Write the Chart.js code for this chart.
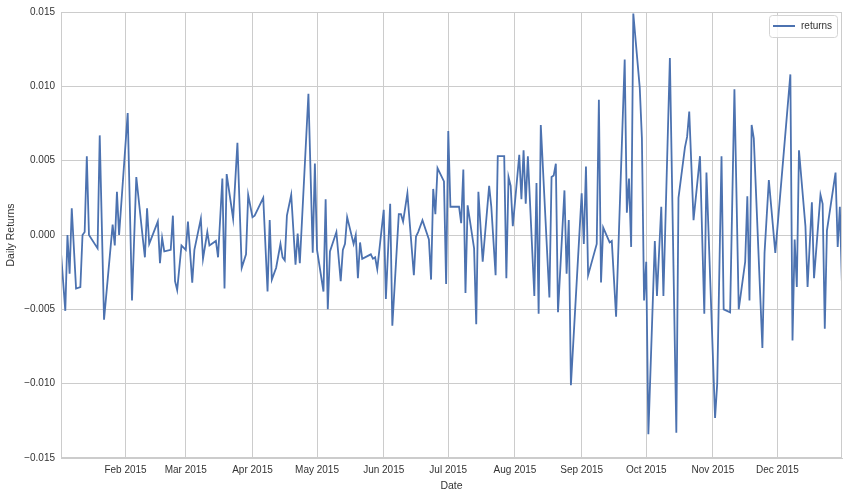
<!DOCTYPE html>
<html>
<head>
<meta charset="utf-8">
<script src="https://cdn.jsdelivr.net/npm/chart.js@4.4.1/dist/chart.umd.min.js"></script>
<style>
html, body { margin: 0; padding: 0; background: #fff; }
#wrap { width: 848px; height: 497px; }
</style>
</head>
<body>
<div id="wrap"><canvas id="returnsChart" width="848" height="497"></canvas></div>
<script>
const seriesName = 'returns';

const dates = [
    '2015-01-02', '2015-01-04', '2015-01-05', '2015-01-06', '2015-01-07', '2015-01-09', '2015-01-11', '2015-01-12',
    '2015-01-13', '2015-01-14', '2015-01-15', '2015-01-19', '2015-01-20', '2015-01-22', '2015-01-26', '2015-01-27',
    '2015-01-28', '2015-01-29', '2015-02-02', '2015-02-04', '2015-02-06', '2015-02-09', '2015-02-10', '2015-02-11',
    '2015-02-12', '2015-02-16', '2015-02-17', '2015-02-18', '2015-02-19', '2015-02-22', '2015-02-23', '2015-02-24',
    '2015-02-25', '2015-02-27', '2015-03-01', '2015-03-02', '2015-03-04', '2015-03-05', '2015-03-08', '2015-03-09',
    '2015-03-11', '2015-03-12', '2015-03-15', '2015-03-16', '2015-03-18', '2015-03-19', '2015-03-20', '2015-03-23',
    '2015-03-25', '2015-03-27', '2015-03-29', '2015-03-30', '2015-04-01', '2015-04-02', '2015-04-06', '2015-04-08',
    '2015-04-09', '2015-04-10', '2015-04-12', '2015-04-14', '2015-04-15', '2015-04-16', '2015-04-17', '2015-04-19',
    '2015-04-21', '2015-04-22', '2015-04-23', '2015-04-27', '2015-04-29', '2015-04-30', '2015-05-01', '2015-05-04',
    '2015-05-05', '2015-05-06', '2015-05-07', '2015-05-10', '2015-05-12', '2015-05-13', '2015-05-14', '2015-05-15',
    '2015-05-18', '2015-05-19', '2015-05-20', '2015-05-21', '2015-05-22', '2015-05-26', '2015-05-27', '2015-05-28',
    '2015-05-29', '2015-06-01', '2015-06-02', '2015-06-04', '2015-06-05', '2015-06-08', '2015-06-09', '2015-06-10',
    '2015-06-12', '2015-06-15', '2015-06-16', '2015-06-17', '2015-06-19', '2015-06-22', '2015-06-23', '2015-06-24',
    '2015-06-25', '2015-06-26', '2015-06-29', '2015-06-30', '2015-07-01', '2015-07-02', '2015-07-06', '2015-07-07',
    '2015-07-08', '2015-07-09', '2015-07-10', '2015-07-13', '2015-07-14', '2015-07-15', '2015-07-17', '2015-07-20',
    '2015-07-21', '2015-07-23', '2015-07-24', '2015-07-27', '2015-07-28', '2015-07-29', '2015-07-30', '2015-07-31',
    '2015-08-03', '2015-08-04', '2015-08-05', '2015-08-06', '2015-08-07', '2015-08-10', '2015-08-11', '2015-08-12',
    '2015-08-13', '2015-08-17', '2015-08-18', '2015-08-19', '2015-08-20', '2015-08-21', '2015-08-24', '2015-08-25',
    '2015-08-26', '2015-08-27', '2015-09-01', '2015-09-02', '2015-09-03', '2015-09-04', '2015-09-08', '2015-09-09',
    '2015-09-10', '2015-09-11', '2015-09-14', '2015-09-15', '2015-09-17', '2015-09-21', '2015-09-22', '2015-09-23',
    '2015-09-24', '2015-09-25', '2015-09-28', '2015-09-29', '2015-09-30', '2015-10-01', '2015-10-02', '2015-10-05',
    '2015-10-06', '2015-10-08', '2015-10-09', '2015-10-12', '2015-10-15', '2015-10-16', '2015-10-19', '2015-10-20',
    '2015-10-21', '2015-10-23', '2015-10-26', '2015-10-28', '2015-10-29', '2015-11-02', '2015-11-03', '2015-11-05',
    '2015-11-06', '2015-11-09', '2015-11-11', '2015-11-13', '2015-11-16', '2015-11-17', '2015-11-18', '2015-11-19',
    '2015-11-20', '2015-11-24', '2015-11-25', '2015-11-27', '2015-11-30', '2015-12-07', '2015-12-08', '2015-12-09',
    '2015-12-10', '2015-12-11', '2015-12-14', '2015-12-15', '2015-12-17', '2015-12-18', '2015-12-21', '2015-12-22',
    '2015-12-23', '2015-12-24', '2015-12-28', '2015-12-29', '2015-12-30', '2015-12-31'
];

const returns = [
    -0.0012, -0.0051, 0.0000, -0.0026, 0.0018, -0.0036, -0.0035, 0.0000,
    0.0002, 0.0053, 0.0000, -0.0009, 0.0067, -0.0057, 0.0007, -0.0007,
    0.0029, 0.0000, 0.0082, -0.0044, 0.0039, -0.0002, -0.0015, 0.0018,
    -0.0006, 0.0009, -0.0019, -0.0002, -0.0011, -0.0010, 0.0013, -0.0031,
    -0.0037, -0.0007, -0.0010, 0.0009, -0.0032, -0.0010, 0.0011, -0.0016,
    0.0002, -0.0007, -0.0004, -0.0015, 0.0038, -0.0036, 0.0041, 0.0011,
    0.0062, -0.0022, -0.0013, 0.0027, 0.0012, 0.0013, 0.0025, -0.0038,
    0.0010, -0.0030, -0.0022, -0.0006, -0.0015, -0.0017, 0.0013, 0.0027,
    -0.0020, 0.0001, -0.0019, 0.0095, -0.0012, 0.0048, -0.0010, -0.0038,
    0.0024, -0.0050, -0.0011, 0.0002, -0.0031, -0.0010, -0.0006, 0.0012,
    -0.0006, 0.0000, -0.0029, -0.0005, -0.0016, -0.0013, -0.0016, -0.0015,
    -0.0023, 0.0017, -0.0043, 0.0021, -0.0061, 0.0014, 0.0014, 0.0009,
    0.0028, -0.0027, -0.0001, 0.0002, 0.0010, -0.0003, -0.0030, 0.0031,
    0.0014, 0.0045, 0.0036, -0.0033, 0.0070, 0.0019, 0.0019, 0.0008,
    0.0044, -0.0039, 0.0020, -0.0009, -0.0060, 0.0029, -0.0018, 0.0033,
    0.0019, -0.0027, 0.0053, 0.0053, -0.0029, 0.0039, 0.0033, 0.0006,
    0.0054, 0.0024, 0.0057, 0.0021, 0.0053, -0.0041, 0.0035, -0.0053,
    0.0074, -0.0042, 0.0039, 0.0040, 0.0048, -0.0052, 0.0030, -0.0026,
    0.0010, -0.0101, 0.0028, -0.0006, 0.0046, -0.0027, -0.0006, 0.0091,
    -0.0032, 0.0005, -0.0005, -0.0004, -0.0055, 0.0118, 0.0015, 0.0038,
    -0.0008, 0.0149, 0.0099, 0.0065, -0.0044, -0.0018, -0.0134, -0.0004,
    -0.0041, 0.0019, -0.0041, 0.0119, -0.0133, 0.0025, 0.0059, 0.0066,
    0.0083, 0.0010, 0.0053, -0.0053, 0.0042, -0.0123, -0.0100, 0.0053,
    -0.0050, -0.0052, 0.0098, -0.0050, -0.0018, 0.0026, -0.0044, 0.0074,
    0.0065, -0.0076, -0.0012, 0.0037, -0.0012, 0.0108, -0.0071, -0.0003,
    -0.0035, 0.0057, 0.0006, -0.0035, 0.0022, -0.0029, 0.0027, 0.0021,
    -0.0063, 0.0003, 0.0042, -0.0008, 0.0019, -0.0034
];

const monthTickDates = ['2015-02-01', '2015-03-01', '2015-04-01', '2015-05-01', '2015-06-01',
    '2015-07-01', '2015-08-01', '2015-09-01', '2015-10-01', '2015-11-01', '2015-12-01'];
const monthTickLabels = ['Feb 2015', 'Mar 2015', 'Apr 2015', 'May 2015', 'Jun 2015',
    'Jul 2015', 'Aug 2015', 'Sep 2015', 'Oct 2015', 'Nov 2015', 'Dec 2015'];

const lineColor = '#4c72b0';
const gridColor = '#cccccc';
const textColor = '#333333';
const fontFamily = '"Liberation Sans", Arial, sans-serif';

// no date adapter offline, so dates go on a linear axis as day-of-year
function dayOfYear(s) {
    const d = new Date(s + 'T00:00:00Z');
    return (d - Date.UTC(d.getUTCFullYear(), 0, 1)) / 86400000;
}

const points = dates.map((d, i) => ({ x: dayOfYear(d), y: returns[i] }));
const tickDays = monthTickDates.map(dayOfYear);

const frameAndLegend = {
    id: 'frameAndLegend',
    afterDraw(chart) {
        const { ctx, chartArea: a } = chart;
        ctx.save();
        ctx.strokeStyle = gridColor;
        ctx.lineWidth = 1;
        ctx.strokeRect(Math.round(a.left) + 0.5, Math.round(a.top) + 0.5,
            Math.round(a.right - a.left) - 1, Math.round(a.bottom - a.top) - 1);

        // legend box, top right inside the plot
        const bw = 68, bh = 22;
        const bx = a.right - 5 - bw, by = a.top + 3;
        ctx.beginPath();
        ctx.roundRect(bx + 0.5, by + 0.5, bw, bh, 3);
        ctx.fillStyle = 'rgba(255,255,255,0.8)';
        ctx.fill();
        ctx.strokeStyle = '#d4d4d4';
        ctx.stroke();
        ctx.beginPath();
        ctx.moveTo(bx + 4, by + 11);
        ctx.lineTo(bx + 26, by + 11);
        ctx.strokeStyle = lineColor;
        ctx.lineWidth = 2;
        ctx.stroke();
        ctx.fillStyle = textColor;
        ctx.font = '10px ' + fontFamily;
        ctx.textBaseline = 'middle';
        ctx.textAlign = 'left';
        ctx.fillText(seriesName, bx + 32, by + 11.5);
        ctx.restore();
    }
};

const ctx = document.getElementById('returnsChart').getContext('2d');
new Chart(ctx, {
    type: 'line',
    data: {
        datasets: [{
            label: seriesName,
            data: points,
            borderColor: lineColor,
            borderWidth: 1.8,
            pointRadius: 0,
            tension: 0,
            fill: false
        }]
    },
    options: {
        responsive: false,
        animation: false,
        layout: { padding: { top: 12, right: 6, left: 0, bottom: 0 } },
        plugins: {
            legend: { display: false },
            tooltip: { enabled: false }
        },
        scales: {
            x: {
                type: 'linear',
                min: dayOfYear(dates[0]),
                max: dayOfYear(dates[dates.length - 1]),
                afterBuildTicks: scale => {
                    scale.ticks = tickDays.map(v => ({ value: v }));
                },
                afterFit: scale => { scale.height = 39; },
                grid: { color: gridColor, drawTicks: false },
                border: { color: gridColor },
                ticks: {
                    color: textColor,
                    font: { family: fontFamily, size: 10 },
                    padding: 6,
                    maxRotation: 0,
                    autoSkip: false,
                    callback: (value) => {
                        const i = tickDays.indexOf(value);
                        return i >= 0 ? monthTickLabels[i] : '';
                    }
                },
                title: {
                    display: true,
                    text: 'Date',
                    color: textColor,
                    font: { family: fontFamily, size: 10.5 },
                    padding: { top: 0, bottom: 5 }
                }
            },
            y: {
                min: -0.015,
                max: 0.015,
                afterFit: scale => { scale.width = 61; },
                grid: { color: gridColor, drawTicks: false },
                border: { color: gridColor },
                ticks: {
                    stepSize: 0.005,
                    color: textColor,
                    font: { family: fontFamily, size: 10 },
                    padding: 6,
                    callback: (value) => {
                        const s = Math.abs(value).toFixed(3);
                        return value < -1e-9 ? '\u2212' + s : s;
                    }
                },
                title: {
                    display: true,
                    text: 'Daily Returns',
                    color: textColor,
                    font: { family: fontFamily, size: 10.5 },
                    padding: { top: 5, bottom: 0 }
                }
            }
        }
    },
    plugins: [frameAndLegend]
});
</script>
</body>
</html>
